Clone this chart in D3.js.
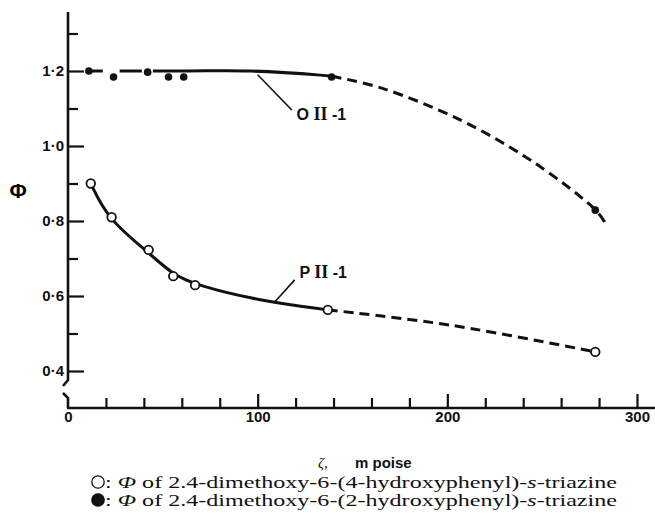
<!DOCTYPE html>
<html>
<head>
<meta charset="utf-8">
<title>Phi vs viscosity</title>
<script src="https://d3js.org/d3.v7.min.js"></script>
<style>
    body { margin: 0; background: #fff; }
    .tick text { font-family: "Liberation Sans", Arial, sans-serif; font-size: 15px; font-weight: bold; fill: #111; }
    .tick line { stroke: #111; stroke-width: 2.2; }
    .curve { fill: none; stroke: #111; stroke-width: 3; }
    .dashed { stroke-dasharray: 10 6; }
</style>
</head>
<body>
<svg width="655" height="523"></svg>
<script>
// measured points: filled circles (2-hydroxyphenyl, O II-1)
const filledX = [11, 24, 42, 53, 61, 139, 278];
const filledY = [1.2, 1.184, 1.197, 1.184, 1.184, 1.184, 0.829];
// open circles (4-hydroxyphenyl, P II-1)
const openX = [12, 23, 42.5, 55.5, 67, 137, 278];
const openY = [0.9, 0.81, 0.723, 0.653, 0.629, 0.563, 0.451];

// drawn fit curves, solid and dashed (extrapolated) parts
const oSolidX = [11, 60, 96, 133, 139];
const oSolidY = [1.2, 1.2, 1.2, 1.189, 1.186];
const oDashX = [139, 165, 207, 246, 278, 283];
const oDashY = [1.186, 1.155, 1.069, 0.955, 0.83, 0.797];
const pSolidX = [12, 21, 42, 55, 67, 100, 137];
const pSolidY = [0.9, 0.805, 0.718, 0.658, 0.63, 0.588, 0.563];
const pDashX = [137, 202, 278];
const pDashY = [0.563, 0.522, 0.451];

const yMajor = [0.4, 0.6, 0.8, 1.0, 1.2];
const yMinor = [0.5, 0.7, 0.9, 1.1, 1.3];
const xLabels = [0, 100, 200, 300];
const xMinor = [20, 40, 60, 80, 120, 140, 160, 180, 220, 240, 260, 280];

const svg = d3.select("svg");
const x = d3.scaleLinear().domain([0, 300]).range([68, 637]);
const y = d3.scaleLinear().domain([0.4, 1.2]).range([371, 71]);
const axisY = 408;

// y axis with break near the bottom
svg.append("path")
    .attr("d", `M68,12 V380 L63,386 M63,393 L68,398 V${axisY}`)
    .attr("fill", "none").attr("stroke", "#111").attr("stroke-width", 2.6);
// x axis line
svg.append("line")
    .attr("x1", 67).attr("x2", 655).attr("y1", axisY).attr("y2", axisY)
    .attr("stroke", "#111").attr("stroke-width", 2.6);

const fmt = d => d3.format(".1f")(d).replace(".", "\u00b7");

const gy = svg.append("g").attr("transform", "translate(68,0)")
    .call(d3.axisLeft(y).tickValues(yMajor).tickSize(-16).tickPadding(4).tickFormat(fmt));
gy.select(".domain").remove();
const gy2 = svg.append("g").attr("transform", "translate(68,0)")
    .call(d3.axisLeft(y).tickValues(yMinor).tickSize(-10).tickFormat(""));
gy2.select(".domain").remove();

const gx = svg.append("g").attr("transform", `translate(0,${axisY})`)
    .call(d3.axisBottom(x).tickValues(xLabels).tickSize(-14).tickPadding(3).tickFormat(d3.format("d")));
gx.select(".domain").remove();
gx.selectAll(".tick").filter(d => d === 0).select("line").remove();
const gx2 = svg.append("g").attr("transform", `translate(0,${axisY})`)
    .call(d3.axisBottom(x).tickValues(xMinor).tickSize(-10).tickFormat(""));
gx2.select(".domain").remove();

// curves
const smooth = d3.line().x(d => x(d[0])).y(d => y(d[1])).curve(d3.curveBasis);
const line = d3.line().x(d => x(d[0])).y(d => y(d[1])).curve(d3.curveCatmullRom.alpha(0.5));
const zip = (a, b) => a.map((v, i) => [v, b[i]]);
svg.append("path").attr("class", "curve").attr("d", line(zip(oSolidX, oSolidY)))
    .style("stroke-dasharray", "14 17 22 11 1000");
svg.append("path").attr("class", "curve dashed").attr("d", line(zip(oDashX, oDashY)));
svg.append("path").attr("class", "curve").attr("d", smooth(zip(pSolidX, pSolidY)));
svg.append("path").attr("class", "curve dashed").attr("d", line(zip(pDashX, pDashY)));

// points
svg.selectAll(".filled").data(zip(filledX, filledY)).join("circle")
    .attr("class", "filled")
    .attr("cx", d => x(d[0])).attr("cy", d => y(d[1])).attr("r", 3.8)
    .attr("fill", "#111");
svg.selectAll(".open").data(zip(openX, openY)).join("circle")
    .attr("class", "open")
    .attr("cx", d => x(d[0])).attr("cy", d => y(d[1])).attr("r", 4.3)
    .attr("fill", "#fff").attr("stroke", "#111").attr("stroke-width", 1.8);

// curve labels with leader lines
function curveLabel(x1, y1, x2, y2, lx, ly, first) {
    svg.append("line")
        .attr("x1", x(x1)).attr("y1", y(y1)).attr("x2", x(x2)).attr("y2", y(y2))
        .attr("stroke", "#111").attr("stroke-width", 1.6);
    const t = svg.append("text")
        .attr("x", x(lx)).attr("y", y(ly)).attr("dy", "0.35em")
        .style("font-family", "Liberation Sans, Arial, sans-serif")
        .style("font-size", "16px").style("font-weight", "bold").attr("fill", "#111");
    t.append("tspan").text(first + " ");
    t.append("tspan").style("font-family", "Liberation Serif, serif").style("font-size", "18px").text("II");
    t.append("tspan").text(" -1");
}
curveLabel(100, 1.19, 118, 1.096, 120.5, 1.083, "O");
curveLabel(109, 0.584, 119.5, 0.643, 122, 0.664, "P");

// y title
svg.append("text").attr("x", 18).attr("y", 191).attr("dy", "0.35em")
    .attr("text-anchor", "middle")
    .style("font-family", "Liberation Sans, Arial, sans-serif")
    .style("font-size", "21px").style("font-weight", "bold").text("\u03a6");

// x title
const xt = svg.append("text").attr("x", 318).attr("y", 463).attr("dy", "0.35em")
    .style("font-size", "15px").attr("fill", "#111");
xt.append("tspan").style("font-family", "Liberation Serif, serif").style("font-style", "italic").text("\u03b6,");
xt.append("tspan").attr("x", 355).style("font-family", "Liberation Sans, Arial, sans-serif")
    .style("font-weight", "bold").text("m poise");

// legend
const legendRows = [
    { fill: "#fff", text: "4-hydroxyphenyl" },
    { fill: "#111", text: "2-hydroxyphenyl" }
];
legendRows.forEach((r, i) => {
    const cy = 482 + i * 18;
    svg.append("circle").attr("cx", 98).attr("cy", cy).attr("r", 6.2)
        .attr("fill", r.fill).attr("stroke", "#111").attr("stroke-width", 1.3);
    const t = svg.append("text").attr("x", 105).attr("y", cy).attr("dy", "0.35em")
        .attr("textLength", 512).attr("lengthAdjust", "spacingAndGlyphs")
        .style("font-family", "Liberation Serif, Times New Roman, serif")
        .style("font-size", "17px").attr("fill", "#111");
    t.append("tspan").text(": ");
    t.append("tspan").style("font-style", "italic").text("\u03a6");
    t.append("tspan").text(" of 2.4-dimethoxy-6-(" + r.text + ")-");
    t.append("tspan").style("font-style", "italic").text("s");
    t.append("tspan").text("-triazine");
});
</script>
</body>
</html>
